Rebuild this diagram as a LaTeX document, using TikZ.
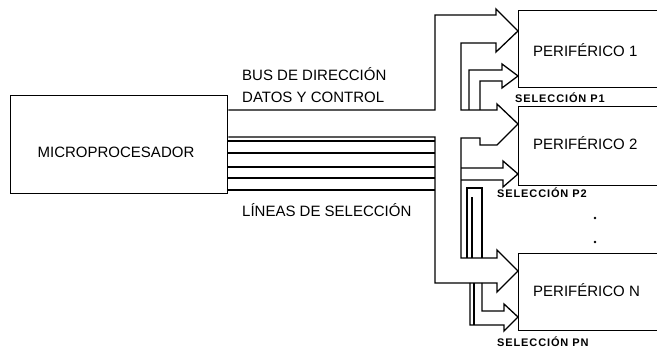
\documentclass[tikz,border=0pt]{standalone}
\usepackage{fontspec}
\setmainfont{Liberation Sans}
\newfontfamily\selfont[LetterSpace=8]{Liberation Sans}
\usetikzlibrary{positioning}

\begin{document}
\begin{tikzpicture}[
    x=1pt, y=-1pt,
    font=\fontsize{15}{17}\selectfont,
    unit/.style={draw, line width=1.3pt, anchor=north west, inner sep=0pt},
    busname/.style={anchor=west, inner sep=0pt},
    seltag/.style={anchor=west, inner sep=0pt, font=\selfont\bfseries\fontsize{11}{13}\selectfont},
    bus/.style={line width=1.3pt, line join=miter},
    dot/.style={circle, fill, inner sep=0pt, minimum size=2.8pt},
]
    \useasboundingbox (0,0) rectangle (657,352);
    \clip (0,0) rectangle (657,352);

    \node[unit, minimum width=217pt, minimum height=98pt] (micro) at (10,95) {};
    \node (microtxt) at (116,152) {MICROPROCESADOR};

    \node[unit, minimum width=200pt, minimum height=77pt] (p1) at (518,10) {};
    \node[unit, minimum width=200pt, minimum height=79pt] (p2) at (518,106) {};
    \node[unit, minimum width=200pt, minimum height=77pt] (pn) at (518,253) {};
    \node[busname] (p1txt) at (533,50) {PERIFÉRICO 1};
    \node[busname] (p2txt) at (533,143) {PERIFÉRICO 2};
    \node[busname] (pntxt) at (533,290) {PERIFÉRICO N};
    \node[dot] (dot1) at (595,218) {};
    \node[dot] (dot2) at (595,242) {};

    \node[busname] (busa) at (242,74) {BUS DE DIRECCIÓN};
    \node[busname] (busb) at (242,97) {DATOS Y CONTROL};
    \node[busname] (lineas) at (242,210) {LÍNEAS DE SELECCIÓN};
    \node[seltag] (sel1) at (515,98) {SELECCIÓN P1};
    \node[seltag] (sel2) at (497,193) {SELECCIÓN P2};
    \node[seltag] (seln) at (497,342) {SELECCIÓN PN};

    \draw[bus] (micro.east |- 0,110) -- (435,110) -- (435,15) -- (496,15) -- (496,9)
        -- (p1.west |- 0,31) -- (496,52) -- (496,43) -- (461,43) -- (461,110)
        -- (497,110) -- (497,104) -- (p2.west |- 0,124) -- (497,145) -- (480,145)
        -- (480,138) -- (461,138) -- (461,258) -- (497,258) -- (497,250)
        -- (pn.west |- 0,271) -- (497,292) -- (497,283) -- (435,283) -- (435,137)
        -- (micro.east |- 0,137);
    \foreach \y in {141,153,167,178,190}
        \draw[bus] (micro.east |- 0,\y) -- (435,\y);

    \draw[bus] (469,110) -- (469,70) -- (502,70) -- (502,64) -- (p1.west |- 0,76)
        -- (502,88) -- (502,81) -- (480,81) -- (480,110);
    \draw[bus] (461,168) -- (503,168) -- (503,161) -- (p2.west |- 0,174)
        -- (503,187) -- (503,180) -- (461,180);
    \draw[bus] (467,258) -- (467,188) -- (482,188) -- (482,258);
    \draw[bus] (472,258) -- (472,197);
    \draw[bus] (470,283) -- (470,325) -- (504,325) -- (504,331) -- (pn.west |- 0,317)
        -- (504,304) -- (504,311) -- (482,311) -- (482,283);
    \draw[bus] (474,283) -- (474,325);
\end{tikzpicture}
\end{document}
